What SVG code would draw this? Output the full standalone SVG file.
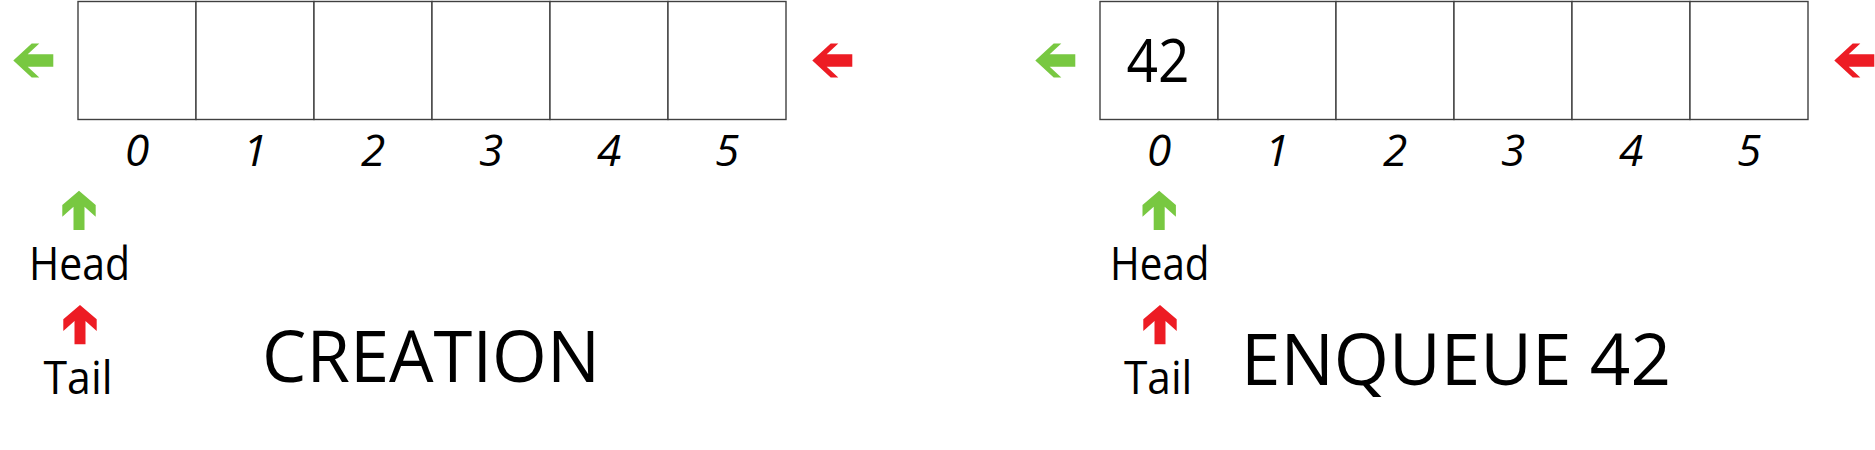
<svg xmlns="http://www.w3.org/2000/svg" xmlns:xlink="http://www.w3.org/1999/xlink" width="1875" height="450" viewBox="0 0 1875 450">
<style>
.cell{fill:#fff;stroke:#404040;stroke-width:1.4}
.idx{font-family:"Open Sans","Noto Sans",sans-serif;font-style:italic;font-size:44px;fill:#000;text-anchor:middle}
.lbl{font-family:"Open Sans","Noto Sans",sans-serif;font-size:46px;fill:#000}
.title{font-family:"Open Sans","Noto Sans",sans-serif;font-size:71px;fill:#000}
.val{font-family:"Open Sans","Noto Sans",sans-serif;font-size:60px;fill:#000;text-anchor:middle}
.green{fill:#78C841}
.red{fill:#ED1C24}
</style>
<defs>
<path id="la" d="M0,0 L18.4,-17 L26,-17 L14.4,-6.2 L40,-6.2 L40,6.2 L14.4,6.2 L26,17 L18.4,17 Z"/>
<path id="ua" d="M0,0 L16.7,14.3 L16.7,26 L5.5,16 L5.5,39.3 L-5.5,39.3 L-5.5,16 L-16.7,26 L-16.7,14.3 Z"/>
</defs>
<rect width="1875" height="450" fill="#fff"/>

<g id="creation-array">
<rect class="cell" x="78" y="1.5" width="118" height="118"/>
<rect class="cell" x="196" y="1.5" width="118" height="118"/>
<rect class="cell" x="314" y="1.5" width="118" height="118"/>
<rect class="cell" x="432" y="1.5" width="118" height="118"/>
<rect class="cell" x="550" y="1.5" width="118" height="118"/>
<rect class="cell" x="668" y="1.5" width="118" height="118"/>
<text class="idx" x="137" y="165.7">0</text>
<text class="idx" x="255" y="165.7">1</text>
<text class="idx" x="373" y="165.7">2</text>
<text class="idx" x="491" y="165.7">3</text>
<text class="idx" x="609" y="165.7">4</text>
<text class="idx" x="727" y="165.7">5</text>
</g>

<g id="creation-pointers">
<use xlink:href="#la" class="green" x="13.3" y="60.5"/>
<use xlink:href="#la" class="red" x="812.3" y="60.5"/>
<use xlink:href="#ua" class="green" x="79" y="190.7"/>
<use xlink:href="#ua" class="red" x="80" y="305"/>
</g>

<g id="creation-labels">
<text class="lbl" x="29" y="280" textLength="101" lengthAdjust="spacingAndGlyphs">Head</text>
<text class="lbl" x="43.5" y="394" textLength="69" lengthAdjust="spacingAndGlyphs">Tail</text>
<text class="title" x="262" y="381.7" textLength="338" lengthAdjust="spacingAndGlyphs">CREATION</text>
</g>

<g id="enqueue-array">
<rect class="cell" x="1100" y="1.5" width="118" height="118"/>
<rect class="cell" x="1218" y="1.5" width="118" height="118"/>
<rect class="cell" x="1336" y="1.5" width="118" height="118"/>
<rect class="cell" x="1454" y="1.5" width="118" height="118"/>
<rect class="cell" x="1572" y="1.5" width="118" height="118"/>
<rect class="cell" x="1690" y="1.5" width="118" height="118"/>
<text class="val" x="1158" y="81.7" textLength="63" lengthAdjust="spacingAndGlyphs">42</text>
<text class="idx" x="1159" y="165.7">0</text>
<text class="idx" x="1277" y="165.7">1</text>
<text class="idx" x="1395" y="165.7">2</text>
<text class="idx" x="1513" y="165.7">3</text>
<text class="idx" x="1631" y="165.7">4</text>
<text class="idx" x="1749" y="165.7">5</text>
</g>

<g id="enqueue-pointers">
<use xlink:href="#la" class="green" x="1035.3" y="60.5"/>
<use xlink:href="#la" class="red" x="1834.3" y="60.5"/>
<use xlink:href="#ua" class="green" x="1159.2" y="190.7"/>
<use xlink:href="#ua" class="red" x="1160" y="305"/>
</g>

<g id="enqueue-labels">
<text class="lbl" x="1110" y="279.5" textLength="99.5" lengthAdjust="spacingAndGlyphs">Head</text>
<text class="lbl" x="1124" y="393.5" textLength="68.3" lengthAdjust="spacingAndGlyphs">Tail</text>
<text class="title" x="1241" y="385" textLength="430" lengthAdjust="spacingAndGlyphs" style="font-size:72px">ENQUEUE 42</text>
</g>

<g id="connectors"/>
</svg>
